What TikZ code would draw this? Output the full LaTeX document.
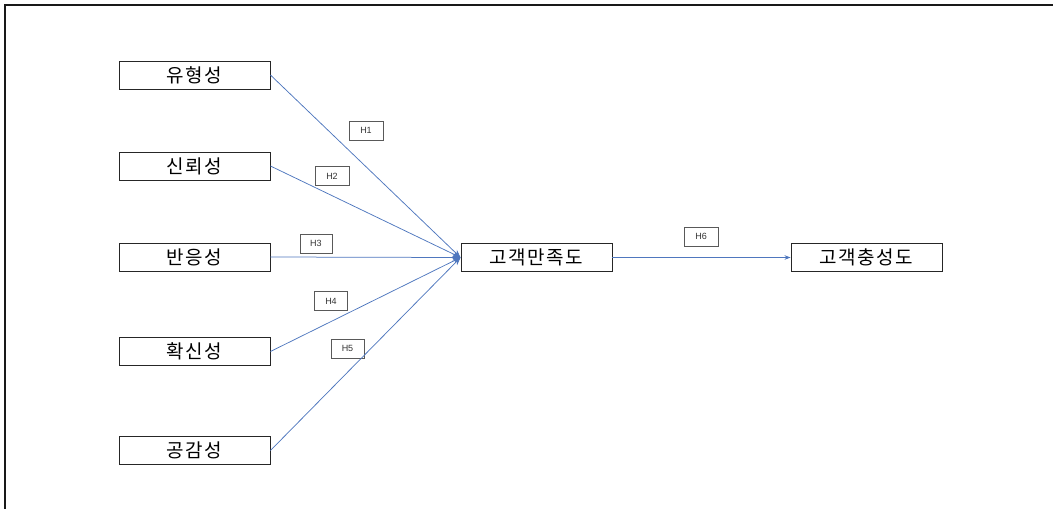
\documentclass[tikz,border=0pt]{standalone}
\usepackage{fontspec}
\setmainfont{Noto Sans CJK KR}
\newfontfamily\korfont[LetterSpace=8]{Noto Sans CJK KR}
\newfontfamily\hfont{Liberation Sans}
\usetikzlibrary{arrows.meta}
\definecolor{linkblue}{HTML}{4F77BE}
\begin{document}
\begin{tikzpicture}[x=1pt,y=-1pt,
  varbox/.style={draw=black!85,line width=0.9pt,minimum width=151pt,minimum height=28pt,inner sep=0pt,font=\korfont\fontsize{19}{21}\selectfont},
  hbox/.style={draw=black!65,line width=0.8pt,minimum width=34pt,minimum height=19pt,inner sep=0pt,font=\hfont\fontsize{9}{10}\selectfont,text=black!80},
  link/.style={draw=linkblue,line width=0.75pt,-{Stealth[length=8pt,width=6pt]}}]
\useasboundingbox (0,0) rectangle (1053,509);
\coordinate (ftop) at (1053,5);
\coordinate (fcorner) at (5,5);
\coordinate (fbottom) at (5,509);
\draw[line width=1.6pt,black!90] (ftop) -- (fcorner) -- (fbottom);
\node[varbox] (v1) at (194.5,75) {유형성};
\node[varbox] (v2) at (194.5,166) {신뢰성};
\node[varbox] (v3) at (194.5,257) {반응성};
\node[varbox] (v4) at (194.5,351.5) {확신성};
\node[varbox] (v5) at (194.5,450.5) {공감성};
\node[varbox] (sat) at (536.5,257.5) {고객만족도};
\node[varbox] (loy) at (866.5,257.5) {고객충성도};
\node[hbox] (h1) at (366,130.5) {H1};
\node[hbox] (h2) at (332,176) {H2};
\node[hbox,minimum width=32pt] (h3) at (316,243.5) {H3};
\node[hbox,minimum width=33pt] (h4) at (331,301) {H4};
\node[hbox,minimum width=33pt] (h5) at (347.5,348.5) {H5};
\node[hbox] (h6) at (701,236.5) {H6};
\foreach \v in {v1,v2,v3,v4,v5}
  \draw[link] (\v.east) -- (sat.west);
\draw[draw=linkblue,line width=0.75pt,-{Stealth[length=6pt,width=4.5pt]}] (sat.east) -- (loy.west);
\end{tikzpicture}
\end{document}
